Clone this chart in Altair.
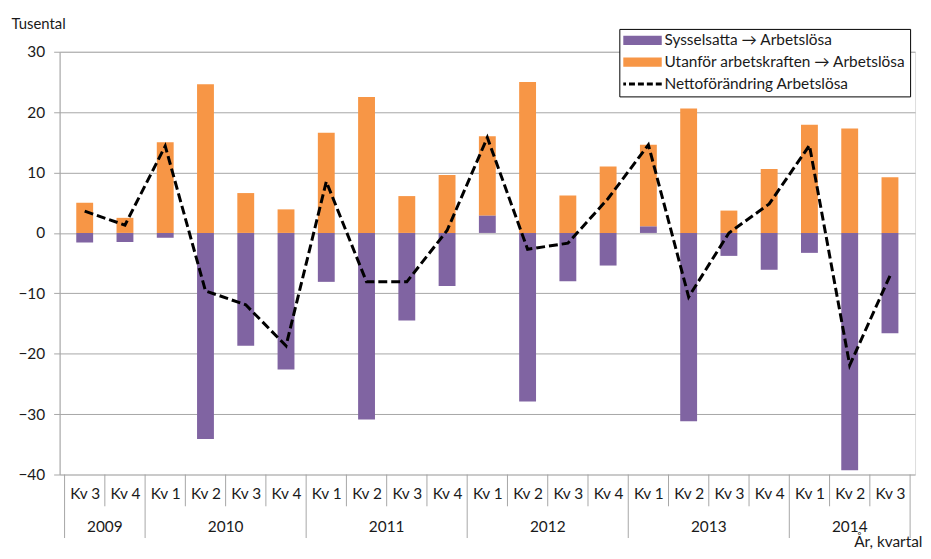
import json
import altair as alt
import pandas as pd

quarters = ["Kv 3", "Kv 4", "Kv 1", "Kv 2", "Kv 3", "Kv 4", "Kv 1", "Kv 2", "Kv 3", "Kv 4",
            "Kv 1", "Kv 2", "Kv 3", "Kv 4", "Kv 1", "Kv 2", "Kv 3", "Kv 4", "Kv 1", "Kv 2", "Kv 3"]
years = [2009, 2009, 2010, 2010, 2010, 2010, 2011, 2011, 2011, 2011,
         2012, 2012, 2012, 2012, 2013, 2013, 2013, 2013, 2014, 2014, 2014]
sysselsatta = [-1.6, -1.5, -0.8, -34.1, -18.7, -22.6, -8.1, -30.9, -14.5, -8.8,
               2.9, -27.9, -8.0, -5.4, 1.1, -31.2, -3.8, -6.1, -3.3, -39.3, -16.6]
utanfor = [5.0, 2.5, 15.0, 24.6, 6.6, 3.9, 16.6, 22.5, 6.1, 9.6,
           13.1, 25.0, 6.2, 11.0, 13.5, 20.6, 3.7, 10.6, 17.9, 17.3, 9.2]
netto = [3.6, 1.3, 14.4, -9.6, -11.9, -18.7, 8.5, -8.1, -8.1, 0.4,
         15.8, -2.7, -1.7, 5.7, 14.6, -10.6, 0.0, 4.8, 14.5, -21.9, -7.1]
series_names = ["Sysselsatta → Arbetslösa", "Utanför arbetskraften → Arbetslösa",
                "Nettoförändring Arbetslösa"]
series_colors = ["#8064a2", "#f79646", "#000000"]
y_ticks = [-40, -30, -20, -10, 0, 10, 20, 30]

W, H = 862, 426
n = len(quarters)
FONT = "Lato"
FS = 15.5
TEXT = "#1a1a1a"
GRAY = "#a6a6a6"

bars_df = pd.DataFrame({
    "pos": [i + 0.5 for i in range(n)] * 2,
    "value": sysselsatta + utanfor,
    "series": [series_names[0]] * n + [series_names[1]] * n,
    "ord": [0] * n + [1] * n,
})
line_df = pd.DataFrame({
    "pos": [i + 0.5 for i in range(n)],
    "value": netto,
    "series": [series_names[2]] * n,
})
is_year_bound = [k == 0 or k == n or years[k] != years[k - 1] for k in range(n + 1)]
qsep_df = pd.DataFrame({"k": [k for k in range(n + 1) if not is_year_bound[k]]})
ysep_df = pd.DataFrame({"k": [k for k in range(n + 1) if is_year_bound[k]]})
uniq_years = sorted(set(years))
year_df = pd.DataFrame({
    "year": [str(y) for y in uniq_years],
    "mid": [(years.index(y) + len(years) - years[::-1].index(y)) / 2 for y in uniq_years],
})

label_expr = json.dumps(quarters) + "[floor(datum.value)]"


def make_x(field):
    return alt.X(
        f"{field}:Q",
        scale=alt.Scale(domain=[0, n], nice=False, zero=False),
        axis=alt.Axis(
            values=[i + 0.5 for i in range(n)],
            labelExpr=label_expr,
            grid=False, domain=False, ticks=False,
            labelFlush=False, labelOverlap=False,
            labelPadding=12, labelFontSize=FS, labelColor=TEXT, labelFont=FONT,
            title="År, kvartal", titleAnchor="end", titleAlign="right",
            titleX=W + 7, titleY=73, titleBaseline="alphabetic",
            titleFontSize=FS, titleFontWeight="normal", titleColor=TEXT, titleFont=FONT,
        ),
    )


y_enc = alt.Y(
    "value:Q",
    scale=alt.Scale(domain=[-40, 30], nice=False),
    stack="zero",
    axis=alt.Axis(
        values=y_ticks, grid=True, gridColor=GRAY, domainColor=GRAY, tickColor=GRAY,
        tickSize=6, labelPadding=9, labelFontSize=FS, labelColor=TEXT, labelFont=FONT,
        title="Tusental", titleAngle=0, titleAlign="left", titleBaseline="middle",
        titleX=-49, titleY=-28, titleFontSize=15, titleFontWeight="normal",
        titleColor=TEXT, titleFont=FONT,
    ),
)

cond = "datum.label === 'Nettoförändring Arbetslösa'"
fill_expr = (f"{cond} ? 'transparent' : (datum.label === '{series_names[0]}' ? "
             f"'{series_colors[0]}' : '{series_colors[1]}')")
legend = alt.Legend(
    title=None, orient="none", legendX=564, legendY=-23,
    padding=4, strokeColor="black", fillColor="white",
    symbolSize=1764, clipHeight=15, rowPadding=6,
    symbolOffset=10, labelOffset=16, labelLimit=400,
    labelFontSize=15.5, labelFont=FONT, labelColor=TEXT,
    symbolType=alt.ExprRef(expr=f"{cond} ? 'stroke' : 'M-1,-0.22H1V0.22H-1Z'"),
    symbolFillColor=alt.ExprRef(expr=fill_expr),
    symbolStrokeColor=alt.ExprRef(expr=f"{cond} ? '#000000' : 'transparent'"),
    symbolStrokeWidth=alt.ExprRef(expr=f"{cond} ? 3 : 0"),
    symbolDash=[6, 3],
    symbolOpacity=1,
)
color_scale = alt.Scale(domain=series_names, range=series_colors)

bars = alt.Chart(bars_df).mark_bar(width=17).encode(
    x=make_x("pos"),
    y=y_enc,
    color=alt.Color("series:N", scale=color_scale, legend=legend, title=None),
    order=alt.Order("ord:Q"),
)

line = alt.Chart(line_df).mark_line(strokeDash=[9, 4], strokeWidth=3).encode(
    x=make_x("pos"),
    y=alt.Y("value:Q", scale=alt.Scale(domain=[-40, 30], nice=False)),
    color=alt.Color("series:N", scale=color_scale, legend=legend, title=None),
)

qsep = alt.Chart(qsep_df).mark_rule(color=GRAY, strokeWidth=1).encode(
    x=make_x("k"), y=alt.value(H), y2=alt.value(H + 32)
)
ysep = alt.Chart(ysep_df).mark_rule(color=GRAY, strokeWidth=1).encode(
    x=make_x("k"), y=alt.value(H), y2=alt.value(H + 64)
)
year_text = alt.Chart(year_df).mark_text(
    fontSize=FS, font=FONT, color=TEXT, align="center", baseline="middle"
).encode(x=make_x("mid"), y=alt.value(H + 53), text="year:N")

chart = alt.layer(bars, line, qsep, ysep, year_text).properties(
    width=W, height=H,
    autosize=alt.AutoSizeParams(type="none"),
    padding={"left": 52, "top": 42, "right": 8, "bottom": 76},
    background="white",
).configure_view(stroke=None).configure(font=FONT)

chart.save("out.html", embed_options={"renderer": "svg", "actions": False})
